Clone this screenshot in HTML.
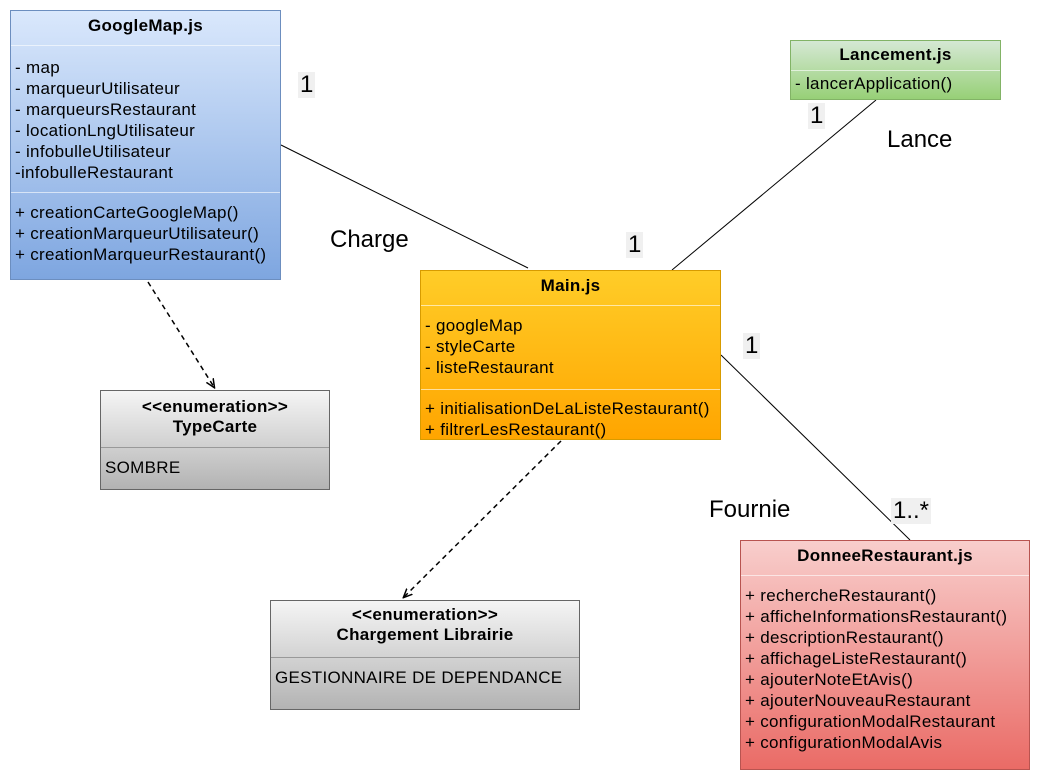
<!DOCTYPE html>
<html><head><meta charset="utf-8"><style>
body{margin:0;width:1041px;height:782px;background:#fff;position:relative;font-family:"Liberation Sans",Arial,sans-serif;overflow:hidden}
.box{position:absolute;box-sizing:border-box;border:1px solid;font-size:17px;letter-spacing:0.3px;color:#000;white-space:nowrap}
.h{font-weight:bold;text-align:center;box-sizing:border-box}
.sep{border-top:1px solid rgba(255,255,255,.6);box-sizing:border-box;padding:0 4px;line-height:21px}
.lbl{position:absolute;font-size:24px;color:#000}
.m{position:absolute;font-size:24px;background:#f0f0f0;padding:0 2px;line-height:26px}
</style></head><body>
<svg width="1041" height="782" style="position:absolute;left:0;top:0">
<defs><marker id="a" markerWidth="10" markerHeight="10" refX="8" refY="5" orient="auto" markerUnits="userSpaceOnUse"><path d="M0,1 L9,5 L0,9" fill="none" stroke="#000" stroke-width="1.5"/></marker></defs>
<line x1="281" y1="145" x2="528" y2="268" stroke="#000"/>
<line x1="876" y1="100" x2="672" y2="270" stroke="#000"/>
<line x1="721" y1="355" x2="910" y2="540" stroke="#000"/>
<line x1="148" y1="282" x2="214" y2="387" stroke="#000" stroke-width="1.5" stroke-dasharray="5,4" marker-end="url(#a)"/>
<line x1="561" y1="441" x2="404" y2="597" stroke="#000" stroke-width="1.5" stroke-dasharray="5,4" marker-end="url(#a)"/>
</svg>

<div class="box" style="left:10px;top:10px;width:271px;height:270px;border-color:#6c8ebf;background:linear-gradient(#dae8fc,#7ea6e0)">
<div class="h" style="height:34px;line-height:30px">GoogleMap.js</div>
<div class="sep" style="height:147px;padding-top:11px">- map<br>- marqueurUtilisateur<br>- marqueursRestaurant<br>- locationLngUtilisateur<br>- infobulleUtilisateur<br>-infobulleRestaurant</div>
<div class="sep" style="padding-top:9px">+ creationCarteGoogleMap()<br>+ creationMarqueurUtilisateur()<br>+ creationMarqueurRestaurant()</div>
</div>

<div class="box" style="left:420px;top:270px;width:301px;height:170px;border-color:#d79b00;background:linear-gradient(#ffcd28,#ffa500)">
<div class="h" style="height:34px;line-height:30px">Main.js</div>
<div class="sep" style="height:84px;padding-top:9px">- googleMap<br>- styleCarte<br>- listeRestaurant</div>
<div class="sep" style="padding-top:8px">+ initialisationDeLaListeRestaurant()<br>+ filtrerLesRestaurant()</div>
</div>

<div class="box" style="left:790px;top:40px;width:211px;height:60px;border-color:#82b366;background:linear-gradient(#d5e8d4,#97d077)">
<div class="h" style="height:29px;line-height:28px">Lancement.js</div>
<div class="sep" style="padding-top:2px">- lancerApplication()</div>
</div>

<div class="box" style="left:100px;top:390px;width:230px;height:100px;border-color:#666;background:linear-gradient(#f5f5f5,#b3b3b3)">
<div class="h" style="height:56px;padding-top:6px;line-height:20px">&lt;&lt;enumeration&gt;&gt;<br>TypeCarte</div>
<div class="sep" style="padding-top:9px;border-top-color:#999">SOMBRE</div>
</div>

<div class="box" style="left:270px;top:600px;width:310px;height:110px;border-color:#666;background:linear-gradient(#f5f5f5,#b3b3b3)">
<div class="h" style="height:56px;padding-top:4px;line-height:20px">&lt;&lt;enumeration&gt;&gt;<br>Chargement Librairie</div>
<div class="sep" style="padding-top:9px;border-top-color:#999">GESTIONNAIRE DE DEPENDANCE</div>
</div>

<div class="box" style="left:740px;top:540px;width:290px;height:230px;border-color:#b85450;background:linear-gradient(#f8cecc,#ea6b66)">
<div class="h" style="height:34px;line-height:30px">DonneeRestaurant.js</div>
<div class="sep" style="padding-top:9px">+ rechercheRestaurant()<br>+ afficheInformationsRestaurant()<br>+ descriptionRestaurant()<br>+ affichageListeRestaurant()<br>+ ajouterNoteEtAvis()<br>+ ajouterNouveauRestaurant<br>+ configurationModalRestaurant<br>+ configurationModalAvis</div>
</div>

<div class="m" style="left:298px;top:72px">1</div>
<div class="lbl" style="left:330px;top:226px">Charge</div>
<div class="m" style="left:626px;top:232px">1</div>
<div class="m" style="left:808px;top:103px">1</div>
<div class="lbl" style="left:887px;top:126px">Lance</div>
<div class="m" style="left:743px;top:333px">1</div>
<div class="lbl" style="left:709px;top:496px">Fournie</div>
<div class="m" style="left:891px;top:498px">1..*</div>
</body></html>
